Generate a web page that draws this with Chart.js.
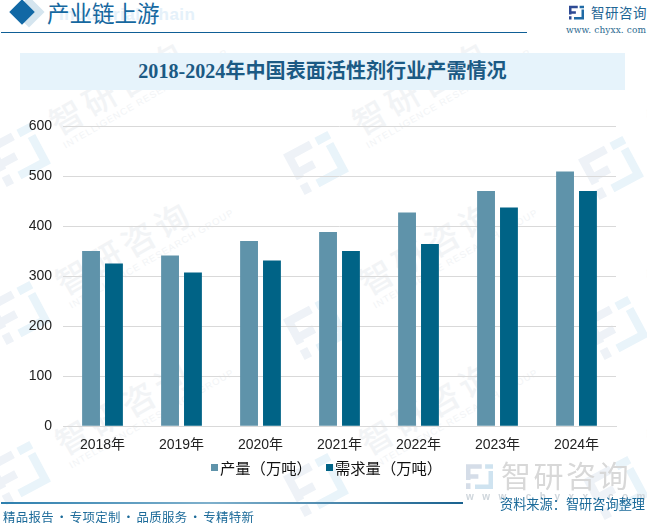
<!DOCTYPE html>
<html>
<head>
<meta charset="utf-8">
<script src="https://cdn.jsdelivr.net/npm/chart.js@4"></script>
<style>
  html, body { margin: 0; padding: 0; background: #fff; }
  body { width: 647px; height: 525px; position: relative; overflow: hidden; font-family: "Noto Sans CJK SC", sans-serif; }
  .abs { position: absolute; white-space: nowrap; }
  #chart { position: absolute; left: 0; top: 0; }
  .wm { position: absolute; white-space: nowrap; transform: rotate(-30deg); transform-origin: left top; color: #f2f4f6; }
  .wm b { display: block; font-size: 33px; font-weight: 500; letter-spacing: 5px; line-height: 38px; }
  .wm i { display: block; font: 9.5px "Liberation Sans"; letter-spacing: 1px; color: #f2f4f6; }
  svg.logo { position: absolute; overflow: visible; }
</style>
</head>
<body>
<div id="marks"></div>

<div class="abs" style="left:59px;top:5px;font:700 17px 'Liberation Sans';letter-spacing:.5px;color:#e5f1fa">Industrial Chain</div>
<div class="abs" style="left:18px;top:1px;width:22px;height:22px;background:#d5e5ef;transform:rotate(45deg)"></div>
<div class="abs" style="left:13px;top:3px;width:18px;height:18px;background:#1168a5;transform:rotate(45deg)"></div>
<div class="abs" style="left:47px;top:-4px;font-size:22.5px;line-height:32px;color:#1668a0">产业链上游</div>
<div class="abs" style="left:1px;top:32px;width:526px;height:1px;background:#0f5f96"></div>

<svg class="logo" style="left:569px;top:5px" width="15" height="15" viewBox="0 0 24 22">
  <path fill="#2e4a94" d="M0 0H14V4H4V9H11V13H4V14H0ZM0 17H4V22H0Z"/>
  <path fill="#1f6aa5" d="M17 0H24V4H17ZM20 6H24V22H8V18H20Z"/>
</svg>
<div class="abs" style="left:591px;top:3px;font-size:13.5px;line-height:19px;letter-spacing:.5px;color:#1f6695">智研咨询</div>
<div class="abs" style="left:566px;top:25px;font:9px 'DejaVu Serif';letter-spacing:.1px;color:#2c6a90">www. chyxx. com</div>

<div class="abs" style="left:20px;top:53px;width:605px;height:37px;background:#e6f3fb"></div>
<div class="abs" style="left:20px;top:53px;width:605px;text-align:center;font:700 20.1px/37px 'Liberation Serif','Noto Sans CJK SC';color:#1b5a84">2018-2024年中国表面活性剂行业产需情况</div>

<canvas id="chart" width="647" height="525"></canvas>

<div id="legend"></div>

<svg class="logo" style="left:466px;top:464px" width="27" height="25" viewBox="0 0 24 22">
  <path fill="#d5dde8" d="M0 0H14V4H4V9H11V13H4V14H0ZM0 17H4V22H0Z"/>
  <path fill="#cfe3f0" d="M17 0H24V4H17ZM20 6H24V22H8V18H20Z"/>
</svg>
<div class="abs" style="left:501px;top:455px;font-size:30px;line-height:38px;letter-spacing:2.5px;color:#d8d8d8">智研咨询</div>
<div class="abs" style="left:466px;top:491px;font:700 10px 'Liberation Sans';letter-spacing:8.5px;color:#cfd6dc">www.chyxx.com</div>

<div class="abs" style="left:1px;top:502px;width:462px;height:1.5px;background:linear-gradient(90deg,#2d7fae,#7fb0cc 45%,#1a628f)"></div>
<div class="abs" style="left:500px;top:493px;font-size:13.2px;line-height:22px;color:#1b6a99">资料来源：智研咨询整理</div>
<div class="abs" style="left:3px;top:507px;font-size:12.4px;line-height:20px;letter-spacing:.35px;word-spacing:-1.6px;color:#1b6a99">精品报告 · 专项定制 · 品质服务 · 专精特新</div>

<script>
const categories = ["2018年", "2019年", "2020年", "2021年", "2022年", "2023年", "2024年"];
const seriesNames = ["产量（万吨）", "需求量（万吨）"];
const outputValues = [350, 341, 370, 388, 427, 470, 509];
const demandValues = [325, 307, 331, 350, 364, 437, 470];
const yTicks = [0, 100, 200, 300, 400, 500, 600];
const seriesColors = ["#5f93aa", "#006386"];

// background watermark tiles, decoration only
const marks = document.getElementById("marks");
[[-8, 132], [290, 140], [585, 145], [-8, 290], [290, 305], [590, 305], [-8, 450], [290, 462], [590, 465]].forEach(([x, y]) => {
  marks.insertAdjacentHTML("beforeend",
    `<svg class="logo" style="left:${x}px;top:${y}px;transform:rotate(-28deg)" width="52" height="46" viewBox="0 0 24 22">
       <path fill="#eef2f7" d="M0 0H14V4H4V9H11V13H4V14H0ZM0 17H4V22H0Z"/>
       <path fill="#e9f4fa" d="M17 0H24V4H17ZM20 6H24V22H8V18H20Z"/>
     </svg>`);
});
[[42, 108], [345, 108], [640, 108], [48, 268], [352, 268], [640, 268], [48, 428], [352, 428], [640, 428]].forEach(([x, y]) => {
  marks.insertAdjacentHTML("beforeend",
    `<div class="wm" style="left:${x}px;top:${y}px"><b>智研咨询</b><i>INTELLIGENCE RESEARCH GROUP</i></div>`);
});

// legend is html: the library legend leaves too wide a gap after the swatch
const legend = document.getElementById("legend");
[211, 326].forEach((x, i) => {
  legend.insertAdjacentHTML("beforeend",
    `<div class="abs" style="left:${x}px;top:464px;width:7px;height:7px;background:${seriesColors[i]}"></div>
     <div class="abs" style="left:${x + 9}px;top:457px;font-size:15.3px;line-height:20px;color:#111">${seriesNames[i]}</div>`);
});

new Chart(document.getElementById("chart").getContext("2d"), {
  type: "bar",
  data: {
    labels: categories,
    datasets: [
      { label: seriesNames[0], data: outputValues, backgroundColor: seriesColors[0] },
      { label: seriesNames[1], data: demandValues, backgroundColor: seriesColors[1] }
    ]
  },
  options: {
    responsive: false,
    animation: false,
    devicePixelRatio: 1,
    layout: { padding: { top: 126, right: 31, bottom: 68, left: 27 } },
    datasets: { bar: { categoryPercentage: 0.58, barPercentage: 0.78 } },
    plugins: {
      title: { display: false },
      tooltip: { enabled: false },
      legend: { display: false }
    },
    scales: {
      x: {
        grid: { display: false },
        border: { color: "#d9d9d9" },
        ticks: { color: "#222", maxRotation: 0, padding: 3, font: { size: 14, family: "'Liberation Sans','Noto Sans CJK SC'" } }
      },
      y: {
        min: 0,
        max: 600,
        afterFit: (axis) => { axis.width = 36; },
        afterBuildTicks: (axis) => { axis.ticks = yTicks.map((value) => ({ value })); },
        grid: { color: "#d9d9d9", drawTicks: false },
        border: { display: false },
        ticks: { color: "#222", padding: 11, font: { size: 14, family: "'Liberation Sans'" } }
      }
    }
  }
});
</script>
</body>
</html>
